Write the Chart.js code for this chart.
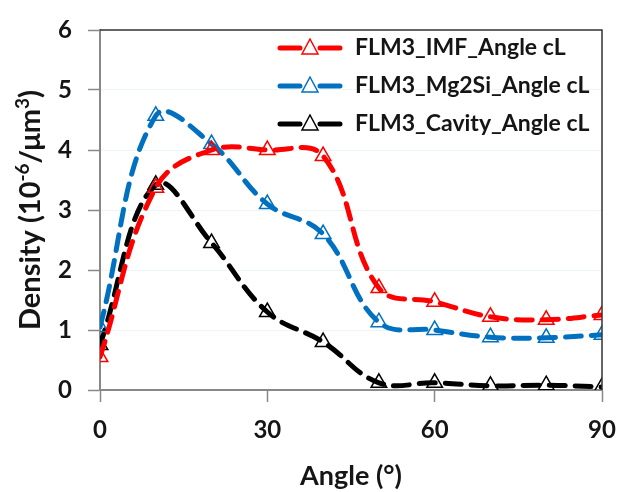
<!DOCTYPE html>
<html>
<head>
<meta charset="utf-8">
<script src="https://cdn.jsdelivr.net/npm/chart.js@4"></script>
<style>
  html, body { margin: 0; padding: 0; background: #fff; }
  #wrap { width: 619px; height: 492px; }
</style>
</head>
<body>
<div id="wrap"><canvas id="myChart" width="619" height="492"></canvas></div>
<script>
const angles = [0, 10, 20, 30, 40, 50, 60, 70, 80, 90];
const imfValues = [0.55, 3.37, 4.0, 4.0, 3.9, 1.7, 1.47, 1.22, 1.17, 1.25];
const mg2siValues = [1.05, 4.57, 4.1, 3.1, 2.6, 1.13, 1.0, 0.88, 0.87, 0.92];
const cavityValues = [0.75, 3.42, 2.45, 1.3, 0.8, 0.12, 0.12, 0.07, 0.08, 0.05];
const seriesLabels = ["FLM3_IMF_Angle cL", "FLM3_Mg2Si_Angle cL", "FLM3_Cavity_Angle cL"];
const seriesColors = ["#ff0000", "#0070c0", "#000000"];
const xTicks = [0, 30, 60, 90];
const yTicks = [0, 1, 2, 3, 4, 5, 6];
const xTitle = "Angle (°)";

const FONT = "Lato, 'Open Sans', sans-serif";
const TEXT = "#151515";
const ctx = document.getElementById("myChart");

function makeSet(label, values, color) {
  return {
    label: label,
    data: angles.map((a, i) => ({ x: a, y: values[i] })),
    borderColor: color,
    borderWidth: 5,
    borderDash: [16, 10],
    borderCapStyle: "round",
    tension: 0.4,
    pointStyle: "triangle",
    pointRadius: 9,
    pointBorderWidth: 1.5,
    pointBorderColor: color,
    pointBackgroundColor: "rgba(255,255,255,0)",
  };
}

// axis titles, top/right frame and legend inside the plot
const frame = {
  id: "frame",
  afterDraw(chart) {
    const c = chart.ctx;
    const a = chart.chartArea;
    c.save();

    // x axis title
    c.fillStyle = TEXT;
    c.font = "bold 27px " + FONT;
    c.textAlign = "center";
    c.textBaseline = "middle";
    c.fillText(xTitle, (a.left + a.right) / 2, 476);
    c.textAlign = "left";

    // y axis title with real superscripts
    const parts = [
      ["Density (10", 29, 0],
      ["-6", 19, -11],
      ["/μm", 29, 0],
      ["3", 19, -11],
      [")", 29, 0],
    ];
    c.translate(30, (a.top + a.bottom) / 2);
    c.rotate(-Math.PI / 2);
    let total = 0;
    parts.forEach((p) => {
      c.font = "bold " + p[1] + "px " + FONT;
      total += c.measureText(p[0]).width;
    });
    let x = -total / 2;
    c.textBaseline = "alphabetic";
    parts.forEach((p) => {
      c.font = "bold " + p[1] + "px " + FONT;
      c.fillText(p[0], x, 10 + p[2]);
      x += c.measureText(p[0]).width;
    });
    c.setTransform(1, 0, 0, 1, 0, 0);

    // legend
    c.save();
    c.beginPath();
    c.rect(0, 0, a.right, chart.height);
    c.clip();
    chart.data.datasets.forEach((ds, i) => {
      const y = 48 + i * 38;
      c.strokeStyle = ds.borderColor;
      c.lineWidth = 5;
      c.lineCap = "round";
      c.beginPath();
      c.moveTo(280, y);
      c.lineTo(300, y);
      c.moveTo(320, y);
      c.lineTo(340, y);
      c.stroke();
      c.lineWidth = 1.5;
      c.beginPath();
      c.moveTo(310, y - 9);
      c.lineTo(318, y + 6);
      c.lineTo(302, y + 6);
      c.closePath();
      c.fillStyle = "#fff";
      c.fill();
      c.stroke();
      c.fillStyle = TEXT;
      c.font = "bold 23px " + FONT;
      c.textBaseline = "middle";
      c.fillText(ds.label, 355, y);
    });
    c.restore();

    c.strokeStyle = "#333";
    c.lineWidth = 1.5;
    c.beginPath();
    c.moveTo(a.left, a.top);
    c.lineTo(a.right, a.top);
    c.lineTo(a.right, a.bottom);
    c.stroke();
    c.restore();
  },
};

new Chart(ctx, {
  type: "line",
  data: {
    datasets: [
      makeSet(seriesLabels[0], imfValues, seriesColors[0]),
      makeSet(seriesLabels[1], mg2siValues, seriesColors[1]),
      makeSet(seriesLabels[2], cavityValues, seriesColors[2]),
    ],
  },
  options: {
    responsive: false,
    animation: false,
    layout: { padding: { top: 30, right: 17, left: 0, bottom: 0 } },
    plugins: {
      legend: { display: false },
      tooltip: { enabled: false },
    },
    scales: {
      x: {
        type: "linear",
        min: 0,
        max: 90,
        afterBuildTicks: (s) => { s.ticks = xTicks.map((v) => ({ value: v })); },
        afterFit: (s) => { s.height = 102; s.paddingLeft = 0; s.paddingRight = 0; },
        border: { color: "#888", width: 2 },
        grid: { drawOnChartArea: false, tickLength: 12, tickColor: "#888", tickWidth: 1.5 },
        ticks: { color: TEXT, font: { size: 24, weight: "bold", family: FONT }, padding: 14 },
      },
      y: {
        min: 0,
        max: 6,
        afterBuildTicks: (s) => { s.ticks = yTicks.map((v) => ({ value: v })); },
        afterFit: (s) => { s.width = 100; s.paddingTop = 0; s.paddingBottom = 0; },
        border: { color: "#888", width: 2 },
        grid: { color: "#eef5f5", tickLength: 12, tickColor: "#888", tickWidth: 1.5 },
        ticks: { color: TEXT, font: { size: 24, weight: "bold", family: FONT }, padding: 16 },
      },
    },
  },
  plugins: [frame],
});
</script>
</body>
</html>
